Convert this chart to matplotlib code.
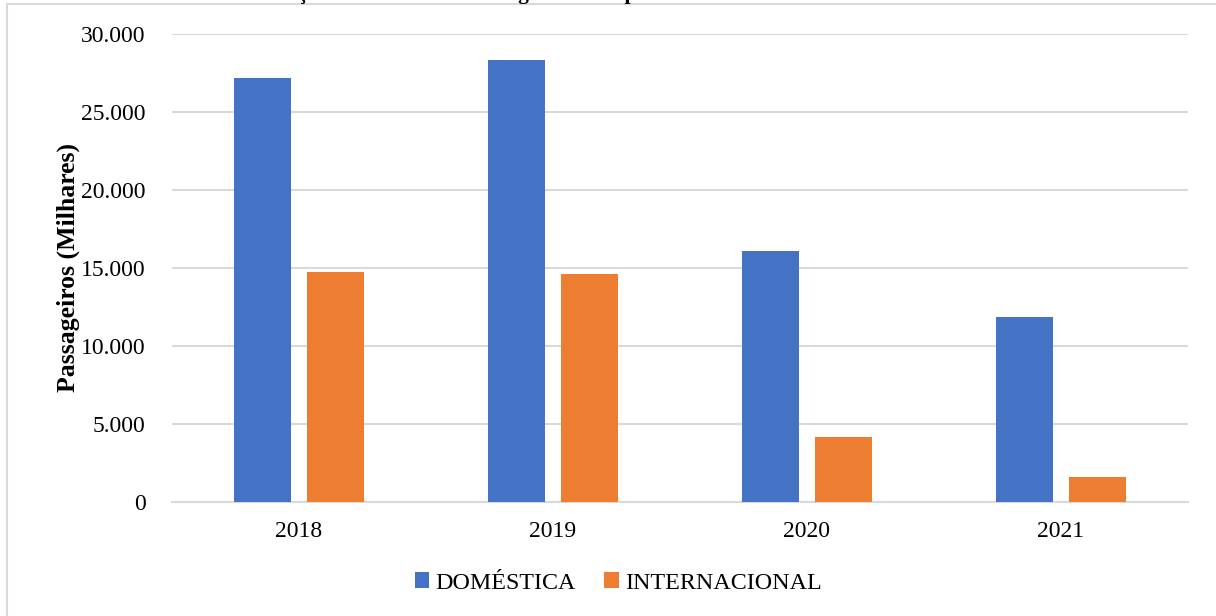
import matplotlib.pyplot as plt
from matplotlib.patches import Rectangle
from matplotlib.ticker import FuncFormatter
import numpy as np

anos = ["2018", "2019", "2020", "2021"]
domestica = [27180, 28330, 16090, 11860]
internacional = [14740, 14620, 4170, 1600]

plt.rcParams["font.family"] = ["Liberation Serif", "DejaVu Serif"]

fig = plt.figure(figsize=(12.16, 6.16), dpi=100)

# moldura cinzenta do grafico (cortada a direita e em baixo)
fig.patches.append(Rectangle((7 / 1216, -0.1), 1.2, 1.1 - 4 / 616,
                             transform=fig.transFigure, fill=False,
                             edgecolor="#D9D9D9", linewidth=1.5))

# titulo, quase todo fora da imagem (so se veem as descendentes)
fig.text(245 / 1216, 1 + 1 / 616, "Evolução do Número de Passageiros transportados",
         ha="left", va="baseline", fontsize=15.3, fontweight="bold")

ax = fig.add_axes([172 / 1216, 1 - 502 / 616, 1016 / 1216, 468 / 616])

x = np.arange(len(anos))
w = 0.224
ax.bar(x - 0.142, domestica, w, color="#4472C4", label="DOMÉSTICA", zorder=3)
ax.bar(x + 0.142, internacional, w, color="#ED7D31", label="INTERNACIONAL", zorder=3)

ax.set_xlim(-0.5, 3.5)
ax.set_ylim(0, 30000)
ax.set_yticks(range(0, 30001, 5000))
ax.yaxis.set_major_formatter(FuncFormatter(lambda v, p: f"{int(v):,}".replace(",", ".")))
ax.set_xticks(x)
ax.set_xticklabels(anos)
ax.tick_params(axis="both", length=0, labelsize=17)
ax.tick_params(axis="y", pad=19)
ax.tick_params(axis="x", pad=14)

ax.grid(axis="y", color="#D9D9D9", linewidth=1.5, zorder=0)
for s in ["top", "right", "left"]:
    ax.spines[s].set_visible(False)
ax.spines["bottom"].set_color("#D9D9D9")
ax.spines["bottom"].set_linewidth(1.5)

ax.set_ylabel("Passageiros (Milhares)", fontsize=18.5, fontweight="bold")
ax.yaxis.set_label_coords(-0.091, 0.5)

fig.legend(loc="center", bbox_to_anchor=(618 / 1216, 1 - 583 / 616), ncol=2,
           frameon=False, fontsize=17.3, handlelength=0.6, handleheight=0.6,
           handletextpad=0.25, columnspacing=1.2)

plt.savefig("out.png", dpi=100)
